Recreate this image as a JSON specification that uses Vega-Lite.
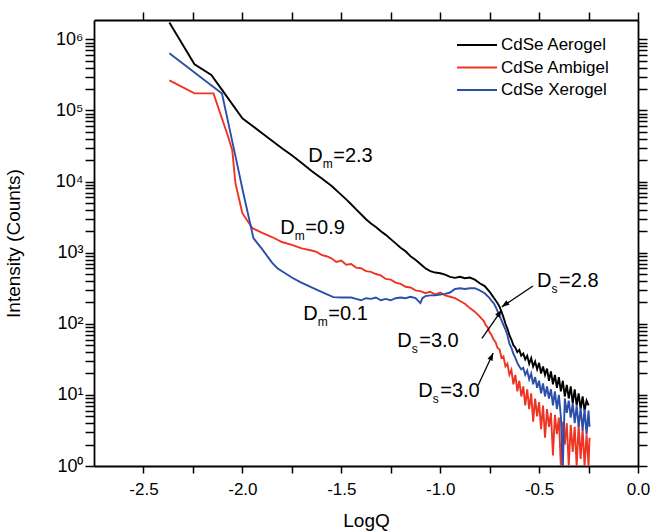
{
  "$schema": "https://vega.github.io/schema/vega-lite/v6.json",
  "width": 544,
  "height": 446,
  "autosize": {"type": "none"},
  "padding": {"left": 94, "top": 20, "right": 13, "bottom": 65},
  "background": "white",
  "config": {
    "view": {"stroke": null},
    "font": "Liberation Sans",
    "axis": {"domainColor": "black", "domainWidth": 1.8, "tickColor": "black", "tickWidth": 1.5, "labelColor": "black", "labelFont": "Liberation Sans", "titleFont": "Liberation Sans", "titleFontWeight": "normal", "titleColor": "black", "grid": false, "labelOverlap": false, "labelFlush": false, "labelBound": false}
  },
  "datasets": {
    "curves": [
      {"s": "CdSe Aerogel", "q": -2.369, "i": 1730000},
      {"s": "CdSe Aerogel", "q": -2.242, "i": 445000},
      {"s": "CdSe Aerogel", "q": -2.157, "i": 315000},
      {"s": "CdSe Aerogel", "q": -2.1, "i": 190000},
      {"s": "CdSe Aerogel", "q": -2.0, "i": 77600},
      {"s": "CdSe Aerogel", "q": -1.95, "i": 61000},
      {"s": "CdSe Aerogel", "q": -1.9, "i": 47900},
      {"s": "CdSe Aerogel", "q": -1.85, "i": 37600},
      {"s": "CdSe Aerogel", "q": -1.8, "i": 29500},
      {"s": "CdSe Aerogel", "q": -1.75, "i": 23400},
      {"s": "CdSe Aerogel", "q": -1.7, "i": 18200},
      {"s": "CdSe Aerogel", "q": -1.65, "i": 14100},
      {"s": "CdSe Aerogel", "q": -1.6, "i": 11100},
      {"s": "CdSe Aerogel", "q": -1.55, "i": 8710},
      {"s": "CdSe Aerogel", "q": -1.5, "i": 6490},
      {"s": "CdSe Aerogel", "q": -1.475, "i": 5620},
      {"s": "CdSe Aerogel", "q": -1.45, "i": 4790},
      {"s": "CdSe Aerogel", "q": -1.425, "i": 4070},
      {"s": "CdSe Aerogel", "q": -1.4, "i": 3470},
      {"s": "CdSe Aerogel", "q": -1.375, "i": 2950},
      {"s": "CdSe Aerogel", "q": -1.35, "i": 2570},
      {"s": "CdSe Aerogel", "q": -1.325, "i": 2290},
      {"s": "CdSe Aerogel", "q": -1.3, "i": 2000},
      {"s": "CdSe Aerogel", "q": -1.275, "i": 1780},
      {"s": "CdSe Aerogel", "q": -1.25, "i": 1550},
      {"s": "CdSe Aerogel", "q": -1.225, "i": 1350},
      {"s": "CdSe Aerogel", "q": -1.2, "i": 1175},
      {"s": "CdSe Aerogel", "q": -1.175, "i": 1047},
      {"s": "CdSe Aerogel", "q": -1.15, "i": 891},
      {"s": "CdSe Aerogel", "q": -1.125, "i": 794},
      {"s": "CdSe Aerogel", "q": -1.1, "i": 692},
      {"s": "CdSe Aerogel", "q": -1.075, "i": 603},
      {"s": "CdSe Aerogel", "q": -1.05, "i": 550},
      {"s": "CdSe Aerogel", "q": -1.025, "i": 525},
      {"s": "CdSe Aerogel", "q": -1.0, "i": 513},
      {"s": "CdSe Aerogel", "q": -0.975, "i": 490},
      {"s": "CdSe Aerogel", "q": -0.95, "i": 457},
      {"s": "CdSe Aerogel", "q": -0.925, "i": 442},
      {"s": "CdSe Aerogel", "q": -0.9, "i": 457},
      {"s": "CdSe Aerogel", "q": -0.875, "i": 437},
      {"s": "CdSe Aerogel", "q": -0.85, "i": 447},
      {"s": "CdSe Aerogel", "q": -0.825, "i": 417},
      {"s": "CdSe Aerogel", "q": -0.8, "i": 372},
      {"s": "CdSe Aerogel", "q": -0.775, "i": 339},
      {"s": "CdSe Aerogel", "q": -0.75, "i": 282},
      {"s": "CdSe Aerogel", "q": -0.74, "i": 257},
      {"s": "CdSe Aerogel", "q": -0.73, "i": 234},
      {"s": "CdSe Aerogel", "q": -0.72, "i": 214},
      {"s": "CdSe Aerogel", "q": -0.71, "i": 195},
      {"s": "CdSe Aerogel", "q": -0.7, "i": 174},
      {"s": "CdSe Aerogel", "q": -0.69, "i": 148},
      {"s": "CdSe Aerogel", "q": -0.68, "i": 123},
      {"s": "CdSe Aerogel", "q": -0.67, "i": 100},
      {"s": "CdSe Aerogel", "q": -0.66, "i": 85},
      {"s": "CdSe Aerogel", "q": -0.65, "i": 69},
      {"s": "CdSe Aerogel", "q": -0.64, "i": 60},
      {"s": "CdSe Aerogel", "q": -0.63, "i": 50},
      {"s": "CdSe Aerogel", "q": -0.62, "i": 46},
      {"s": "CdSe Aerogel", "q": -0.61, "i": 40},
      {"s": "CdSe Aerogel", "q": -0.6, "i": 43},
      {"s": "CdSe Aerogel", "q": -0.59, "i": 35.5},
      {"s": "CdSe Aerogel", "q": -0.58, "i": 38},
      {"s": "CdSe Aerogel", "q": -0.57, "i": 31.6},
      {"s": "CdSe Aerogel", "q": -0.56, "i": 35.5},
      {"s": "CdSe Aerogel", "q": -0.55, "i": 27.5},
      {"s": "CdSe Aerogel", "q": -0.54, "i": 33},
      {"s": "CdSe Aerogel", "q": -0.53, "i": 25.1},
      {"s": "CdSe Aerogel", "q": -0.52, "i": 29.5},
      {"s": "CdSe Aerogel", "q": -0.51, "i": 22.9},
      {"s": "CdSe Aerogel", "q": -0.5, "i": 28.2},
      {"s": "CdSe Aerogel", "q": -0.49, "i": 20},
      {"s": "CdSe Aerogel", "q": -0.48, "i": 25.1},
      {"s": "CdSe Aerogel", "q": -0.47, "i": 19.1},
      {"s": "CdSe Aerogel", "q": -0.46, "i": 23.4},
      {"s": "CdSe Aerogel", "q": -0.45, "i": 15.8},
      {"s": "CdSe Aerogel", "q": -0.44, "i": 21.4},
      {"s": "CdSe Aerogel", "q": -0.43, "i": 14.1},
      {"s": "CdSe Aerogel", "q": -0.42, "i": 19.1},
      {"s": "CdSe Aerogel", "q": -0.41, "i": 12.6},
      {"s": "CdSe Aerogel", "q": -0.4, "i": 17.8},
      {"s": "CdSe Aerogel", "q": -0.39, "i": 11.2},
      {"s": "CdSe Aerogel", "q": -0.38, "i": 15.8},
      {"s": "CdSe Aerogel", "q": -0.37, "i": 9.5},
      {"s": "CdSe Aerogel", "q": -0.36, "i": 13.8},
      {"s": "CdSe Aerogel", "q": -0.35, "i": 8.9},
      {"s": "CdSe Aerogel", "q": -0.34, "i": 13.2},
      {"s": "CdSe Aerogel", "q": -0.33, "i": 7.6},
      {"s": "CdSe Aerogel", "q": -0.32, "i": 12},
      {"s": "CdSe Aerogel", "q": -0.31, "i": 7.1},
      {"s": "CdSe Aerogel", "q": -0.3, "i": 10.5},
      {"s": "CdSe Aerogel", "q": -0.29, "i": 6.3},
      {"s": "CdSe Aerogel", "q": -0.28, "i": 9.5},
      {"s": "CdSe Aerogel", "q": -0.27, "i": 6.0},
      {"s": "CdSe Aerogel", "q": -0.26, "i": 8.3},
      {"s": "CdSe Aerogel", "q": -0.25, "i": 7.1},

      {"s": "CdSe Ambigel", "q": -2.369, "i": 265000},
      {"s": "CdSe Ambigel", "q": -2.242, "i": 174000},
      {"s": "CdSe Ambigel", "q": -2.146, "i": 174000},
      {"s": "CdSe Ambigel", "q": -2.071, "i": 42000},
      {"s": "CdSe Ambigel", "q": -2.051, "i": 27500},
      {"s": "CdSe Ambigel", "q": -2.035, "i": 9460},
      {"s": "CdSe Ambigel", "q": -2.0, "i": 3590},
      {"s": "CdSe Ambigel", "q": -1.949, "i": 2210},
      {"s": "CdSe Ambigel", "q": -1.9, "i": 1905},
      {"s": "CdSe Ambigel", "q": -1.85, "i": 1660},
      {"s": "CdSe Ambigel", "q": -1.8, "i": 1413},
      {"s": "CdSe Ambigel", "q": -1.75, "i": 1288},
      {"s": "CdSe Ambigel", "q": -1.7, "i": 1148},
      {"s": "CdSe Ambigel", "q": -1.65, "i": 1072},
      {"s": "CdSe Ambigel", "q": -1.625, "i": 1023},
      {"s": "CdSe Ambigel", "q": -1.6, "i": 933},
      {"s": "CdSe Ambigel", "q": -1.575, "i": 891},
      {"s": "CdSe Ambigel", "q": -1.55, "i": 832},
      {"s": "CdSe Ambigel", "q": -1.525, "i": 741},
      {"s": "CdSe Ambigel", "q": -1.5, "i": 776},
      {"s": "CdSe Ambigel", "q": -1.475, "i": 676},
      {"s": "CdSe Ambigel", "q": -1.45, "i": 692},
      {"s": "CdSe Ambigel", "q": -1.425, "i": 617},
      {"s": "CdSe Ambigel", "q": -1.4, "i": 603},
      {"s": "CdSe Ambigel", "q": -1.375, "i": 550},
      {"s": "CdSe Ambigel", "q": -1.35, "i": 537},
      {"s": "CdSe Ambigel", "q": -1.325, "i": 501},
      {"s": "CdSe Ambigel", "q": -1.3, "i": 479},
      {"s": "CdSe Ambigel", "q": -1.275, "i": 427},
      {"s": "CdSe Ambigel", "q": -1.25, "i": 417},
      {"s": "CdSe Ambigel", "q": -1.225, "i": 380},
      {"s": "CdSe Ambigel", "q": -1.2, "i": 363},
      {"s": "CdSe Ambigel", "q": -1.175, "i": 331},
      {"s": "CdSe Ambigel", "q": -1.15, "i": 324},
      {"s": "CdSe Ambigel", "q": -1.125, "i": 295},
      {"s": "CdSe Ambigel", "q": -1.1, "i": 288},
      {"s": "CdSe Ambigel", "q": -1.075, "i": 269},
      {"s": "CdSe Ambigel", "q": -1.05, "i": 282},
      {"s": "CdSe Ambigel", "q": -1.025, "i": 257},
      {"s": "CdSe Ambigel", "q": -1.0, "i": 275},
      {"s": "CdSe Ambigel", "q": -0.975, "i": 251},
      {"s": "CdSe Ambigel", "q": -0.95, "i": 240},
      {"s": "CdSe Ambigel", "q": -0.925, "i": 229},
      {"s": "CdSe Ambigel", "q": -0.9, "i": 209},
      {"s": "CdSe Ambigel", "q": -0.875, "i": 191},
      {"s": "CdSe Ambigel", "q": -0.85, "i": 166},
      {"s": "CdSe Ambigel", "q": -0.825, "i": 148},
      {"s": "CdSe Ambigel", "q": -0.8, "i": 126},
      {"s": "CdSe Ambigel", "q": -0.79, "i": 117},
      {"s": "CdSe Ambigel", "q": -0.78, "i": 110},
      {"s": "CdSe Ambigel", "q": -0.77, "i": 95.5},
      {"s": "CdSe Ambigel", "q": -0.76, "i": 89},
      {"s": "CdSe Ambigel", "q": -0.75, "i": 76},
      {"s": "CdSe Ambigel", "q": -0.74, "i": 69},
      {"s": "CdSe Ambigel", "q": -0.73, "i": 60},
      {"s": "CdSe Ambigel", "q": -0.72, "i": 55},
      {"s": "CdSe Ambigel", "q": -0.71, "i": 45.7},
      {"s": "CdSe Ambigel", "q": -0.7, "i": 43.7},
      {"s": "CdSe Ambigel", "q": -0.69, "i": 33.1},
      {"s": "CdSe Ambigel", "q": -0.68, "i": 34.7},
      {"s": "CdSe Ambigel", "q": -0.67, "i": 25.1},
      {"s": "CdSe Ambigel", "q": -0.66, "i": 27.5},
      {"s": "CdSe Ambigel", "q": -0.65, "i": 19.1},
      {"s": "CdSe Ambigel", "q": -0.64, "i": 22.4},
      {"s": "CdSe Ambigel", "q": -0.63, "i": 14.1},
      {"s": "CdSe Ambigel", "q": -0.62, "i": 19.1},
      {"s": "CdSe Ambigel", "q": -0.61, "i": 11.2},
      {"s": "CdSe Ambigel", "q": -0.6, "i": 15.8},
      {"s": "CdSe Ambigel", "q": -0.59, "i": 9.5},
      {"s": "CdSe Ambigel", "q": -0.58, "i": 13.2},
      {"s": "CdSe Ambigel", "q": -0.57, "i": 7.1},
      {"s": "CdSe Ambigel", "q": -0.56, "i": 12},
      {"s": "CdSe Ambigel", "q": -0.55, "i": 6.3},
      {"s": "CdSe Ambigel", "q": -0.54, "i": 10.5},
      {"s": "CdSe Ambigel", "q": -0.53, "i": 4.2},
      {"s": "CdSe Ambigel", "q": -0.52, "i": 8.9},
      {"s": "CdSe Ambigel", "q": -0.51, "i": 5.0},
      {"s": "CdSe Ambigel", "q": -0.5, "i": 7.9},
      {"s": "CdSe Ambigel", "q": -0.49, "i": 3.3},
      {"s": "CdSe Ambigel", "q": -0.48, "i": 7.1},
      {"s": "CdSe Ambigel", "q": -0.47, "i": 2.5},
      {"s": "CdSe Ambigel", "q": -0.46, "i": 6.3},
      {"s": "CdSe Ambigel", "q": -0.45, "i": 3.55},
      {"s": "CdSe Ambigel", "q": -0.44, "i": 5.6},
      {"s": "CdSe Ambigel", "q": -0.43, "i": 1.41},
      {"s": "CdSe Ambigel", "q": -0.42, "i": 5.25},
      {"s": "CdSe Ambigel", "q": -0.41, "i": 2.8},
      {"s": "CdSe Ambigel", "q": -0.4, "i": 4.8},
      {"s": "CdSe Ambigel", "q": -0.39, "i": 1},
      {"s": "CdSe Ambigel", "q": -0.38, "i": 4.2},
      {"s": "CdSe Ambigel", "q": -0.37, "i": 2.0},
      {"s": "CdSe Ambigel", "q": -0.36, "i": 4.0},
      {"s": "CdSe Ambigel", "q": -0.35, "i": 1},
      {"s": "CdSe Ambigel", "q": -0.34, "i": 3.8},
      {"s": "CdSe Ambigel", "q": -0.33, "i": 1.58},
      {"s": "CdSe Ambigel", "q": -0.32, "i": 3.55},
      {"s": "CdSe Ambigel", "q": -0.31, "i": 1},
      {"s": "CdSe Ambigel", "q": -0.3, "i": 3.8},
      {"s": "CdSe Ambigel", "q": -0.29, "i": 1.26},
      {"s": "CdSe Ambigel", "q": -0.28, "i": 3.3},
      {"s": "CdSe Ambigel", "q": -0.27, "i": 1},
      {"s": "CdSe Ambigel", "q": -0.26, "i": 2.8},
      {"s": "CdSe Ambigel", "q": -0.25, "i": 1},
      {"s": "CdSe Ambigel", "q": -0.245, "i": 2.5},

      {"s": "CdSe Xerogel", "q": -2.369, "i": 635000},
      {"s": "CdSe Xerogel", "q": -2.103, "i": 173000},
      {"s": "CdSe Xerogel", "q": -2.025, "i": 16900},
      {"s": "CdSe Xerogel", "q": -1.995, "i": 6850},
      {"s": "CdSe Xerogel", "q": -1.944, "i": 1600},
      {"s": "CdSe Xerogel", "q": -1.9, "i": 1120},
      {"s": "CdSe Xerogel", "q": -1.85, "i": 724},
      {"s": "CdSe Xerogel", "q": -1.823, "i": 605},
      {"s": "CdSe Xerogel", "q": -1.75, "i": 447},
      {"s": "CdSe Xerogel", "q": -1.707, "i": 385},
      {"s": "CdSe Xerogel", "q": -1.65, "i": 324},
      {"s": "CdSe Xerogel", "q": -1.6, "i": 282},
      {"s": "CdSe Xerogel", "q": -1.54, "i": 237},
      {"s": "CdSe Xerogel", "q": -1.5, "i": 234},
      {"s": "CdSe Xerogel", "q": -1.45, "i": 234},
      {"s": "CdSe Xerogel", "q": -1.425, "i": 224},
      {"s": "CdSe Xerogel", "q": -1.4, "i": 214},
      {"s": "CdSe Xerogel", "q": -1.375, "i": 229},
      {"s": "CdSe Xerogel", "q": -1.35, "i": 224},
      {"s": "CdSe Xerogel", "q": -1.325, "i": 234},
      {"s": "CdSe Xerogel", "q": -1.3, "i": 214},
      {"s": "CdSe Xerogel", "q": -1.275, "i": 224},
      {"s": "CdSe Xerogel", "q": -1.25, "i": 214},
      {"s": "CdSe Xerogel", "q": -1.225, "i": 229},
      {"s": "CdSe Xerogel", "q": -1.2, "i": 234},
      {"s": "CdSe Xerogel", "q": -1.175, "i": 229},
      {"s": "CdSe Xerogel", "q": -1.15, "i": 240},
      {"s": "CdSe Xerogel", "q": -1.125, "i": 229},
      {"s": "CdSe Xerogel", "q": -1.1, "i": 195},
      {"s": "CdSe Xerogel", "q": -1.09, "i": 229},
      {"s": "CdSe Xerogel", "q": -1.075, "i": 245},
      {"s": "CdSe Xerogel", "q": -1.05, "i": 251},
      {"s": "CdSe Xerogel", "q": -1.025, "i": 251},
      {"s": "CdSe Xerogel", "q": -1.0, "i": 257},
      {"s": "CdSe Xerogel", "q": -0.975, "i": 263},
      {"s": "CdSe Xerogel", "q": -0.95, "i": 275},
      {"s": "CdSe Xerogel", "q": -0.925, "i": 309},
      {"s": "CdSe Xerogel", "q": -0.9, "i": 316},
      {"s": "CdSe Xerogel", "q": -0.875, "i": 309},
      {"s": "CdSe Xerogel", "q": -0.85, "i": 316},
      {"s": "CdSe Xerogel", "q": -0.825, "i": 316},
      {"s": "CdSe Xerogel", "q": -0.8, "i": 295},
      {"s": "CdSe Xerogel", "q": -0.775, "i": 269},
      {"s": "CdSe Xerogel", "q": -0.75, "i": 229},
      {"s": "CdSe Xerogel", "q": -0.74, "i": 209},
      {"s": "CdSe Xerogel", "q": -0.73, "i": 195},
      {"s": "CdSe Xerogel", "q": -0.72, "i": 174},
      {"s": "CdSe Xerogel", "q": -0.71, "i": 151},
      {"s": "CdSe Xerogel", "q": -0.7, "i": 129},
      {"s": "CdSe Xerogel", "q": -0.69, "i": 112},
      {"s": "CdSe Xerogel", "q": -0.68, "i": 95.5},
      {"s": "CdSe Xerogel", "q": -0.67, "i": 83},
      {"s": "CdSe Xerogel", "q": -0.66, "i": 69},
      {"s": "CdSe Xerogel", "q": -0.65, "i": 52.5},
      {"s": "CdSe Xerogel", "q": -0.64, "i": 45.7},
      {"s": "CdSe Xerogel", "q": -0.63, "i": 38},
      {"s": "CdSe Xerogel", "q": -0.62, "i": 33.1},
      {"s": "CdSe Xerogel", "q": -0.61, "i": 28.2},
      {"s": "CdSe Xerogel", "q": -0.6, "i": 25.1},
      {"s": "CdSe Xerogel", "q": -0.59, "i": 22.9},
      {"s": "CdSe Xerogel", "q": -0.58, "i": 24},
      {"s": "CdSe Xerogel", "q": -0.57, "i": 19.1},
      {"s": "CdSe Xerogel", "q": -0.56, "i": 21.9},
      {"s": "CdSe Xerogel", "q": -0.55, "i": 16.6},
      {"s": "CdSe Xerogel", "q": -0.54, "i": 20},
      {"s": "CdSe Xerogel", "q": -0.53, "i": 14.1},
      {"s": "CdSe Xerogel", "q": -0.52, "i": 17.8},
      {"s": "CdSe Xerogel", "q": -0.51, "i": 12.6},
      {"s": "CdSe Xerogel", "q": -0.5, "i": 15.8},
      {"s": "CdSe Xerogel", "q": -0.49, "i": 10.5},
      {"s": "CdSe Xerogel", "q": -0.48, "i": 14.5},
      {"s": "CdSe Xerogel", "q": -0.47, "i": 9.5},
      {"s": "CdSe Xerogel", "q": -0.46, "i": 13.2},
      {"s": "CdSe Xerogel", "q": -0.45, "i": 8.9},
      {"s": "CdSe Xerogel", "q": -0.44, "i": 12},
      {"s": "CdSe Xerogel", "q": -0.43, "i": 7.1},
      {"s": "CdSe Xerogel", "q": -0.42, "i": 11.2},
      {"s": "CdSe Xerogel", "q": -0.41, "i": 6.3},
      {"s": "CdSe Xerogel", "q": -0.4, "i": 10},
      {"s": "CdSe Xerogel", "q": -0.39, "i": 5.0},
      {"s": "CdSe Xerogel", "q": -0.38, "i": 1},
      {"s": "CdSe Xerogel", "q": -0.37, "i": 8.9},
      {"s": "CdSe Xerogel", "q": -0.36, "i": 5.6},
      {"s": "CdSe Xerogel", "q": -0.35, "i": 8.3},
      {"s": "CdSe Xerogel", "q": -0.34, "i": 4.8},
      {"s": "CdSe Xerogel", "q": -0.33, "i": 7.6},
      {"s": "CdSe Xerogel", "q": -0.32, "i": 4.0},
      {"s": "CdSe Xerogel", "q": -0.31, "i": 7.1},
      {"s": "CdSe Xerogel", "q": -0.3, "i": 3.55},
      {"s": "CdSe Xerogel", "q": -0.29, "i": 6.6},
      {"s": "CdSe Xerogel", "q": -0.28, "i": 3.16},
      {"s": "CdSe Xerogel", "q": -0.27, "i": 6.3},
      {"s": "CdSe Xerogel", "q": -0.26, "i": 2.8},
      {"s": "CdSe Xerogel", "q": -0.25, "i": 6.0},
      {"s": "CdSe Xerogel", "q": -0.245, "i": 3.55}
    ],
    "notes": [
      {"q": -1.667, "i": 18700, "d": "D", "sub": "m", "val": "=2.3"},
      {"q": -1.808, "i": 1820, "d": "D", "sub": "m", "val": "=0.9"},
      {"q": -1.692, "i": 112, "d": "D", "sub": "m", "val": "=0.1"},
      {"q": -0.51, "i": 327, "d": "D", "sub": "s", "val": "=2.8"},
      {"q": -1.217, "i": 47, "d": "D", "sub": "s", "val": "=3.0"},
      {"q": -1.111, "i": 9.3, "d": "D", "sub": "s", "val": "=3.0"}
    ],
    "arrows": [
      {"q1": -0.531, "i1": 340, "q2": -0.688, "i2": 173, "angle": 234},
      {"q1": -0.789, "i1": 62.3, "q2": -0.689, "i2": 156, "angle": 35},
      {"q1": -0.808, "i1": 13.7, "q2": -0.732, "i2": 38.7, "angle": 25}
    ]
  },
  "resolve": {"scale": {"x": "independent", "y": "independent"}, "axis": {"x": "independent", "y": "independent"}},
  "layer": [
    {
      "data": {"name": "curves"},
      "mark": {"type": "line", "strokeWidth": 1.9, "clip": true},
      "encoding": {
        "x": {"field": "q", "type": "quantitative", "scale": {"domain": [-2.75, 0], "nice": false, "zero": false},
          "axis": {"orient": "bottom", "values": [-2.5, -2.25, -2, -1.75, -1.5, -1.25, -1, -0.75, -0.5, -0.25, 0],
            "labelExpr": "abs(datum.value*2 - round(datum.value*2)) < 0.001 ? (datum.value < -0.001 ? '-' : '') + format(abs(datum.value), '.1f') : ''",
            "tickSize": 7,
            "encode": {"ticks": {"update": {"y2": {"signal": "abs(datum.value*2 - round(datum.value*2)) < 0.001 ? 7 : 4"}}}},
            "labelFontSize": 17, "labelPadding": 8, "title": "LogQ", "titleFontSize": 19, "titleY": 45, "titleBaseline": "top"}},
        "y": {"field": "i", "type": "quantitative", "scale": {"type": "log", "domain": [1, 1870000], "nice": false},
          "axis": {"orient": "left", "values": [1,2,3,4,5,6,7,8,9,10,20,30,40,50,60,70,80,90,100,200,300,400,500,600,700,800,900,1000,2000,3000,4000,5000,6000,7000,8000,9000,10000,20000,30000,40000,50000,60000,70000,80000,90000,100000,200000,300000,400000,500000,600000,700000,800000,900000,1000000],
            "labelExpr": "indexof([1,10,100,1000,10000,100000,1000000], datum.value) < 0 ? '' : '10' + ['⁰','¹','²','³','⁴','⁵','⁶'][indexof([1,10,100,1000,10000,100000,1000000], datum.value)]",
            "tickSize": 9,
            "encode": {"ticks": {"update": {"x2": {"signal": "indexof([1,10,100,1000,10000,100000,1000000], datum.value) >= 0 ? -9 : -5"}}}},
            "labelFontSize": 18, "labelPadding": 2, "title": "Intensity (Counts)", "titleFontSize": 19, "titleX": -71, "titleY": 223, "titleAngle": -90, "titleBaseline": "bottom", "titleAlign": "center"}},
        "color": {"field": "s", "type": "nominal",
          "scale": {"domain": ["CdSe Aerogel", "CdSe Ambigel", "CdSe Xerogel"], "range": ["#000000", "#ee3524", "#2c4ea8"]},
          "legend": {"orient": "none", "legendX": 362, "legendY": 16.5, "title": null, "symbolType": "stroke", "symbolSize": 1600, "symbolStrokeWidth": 2, "clipHeight": 17, "labelFontSize": 17, "labelColor": "black", "labelFont": "Liberation Sans", "rowPadding": 4.5, "labelOffset": 3, "padding": 0}}
      }
    },
    {
      "data": {"name": "notes"},
      "mark": {"type": "text", "align": "left", "baseline": "alphabetic", "fontSize": 20, "font": "Liberation Sans", "color": "black"},
      "encoding": {
        "x": {"field": "q", "type": "quantitative", "scale": {"domain": [-2.75, 0], "nice": false, "zero": false},
          "axis": {"orient": "top", "values": [-2.5, -2.25, -2, -1.75, -1.5, -1.25, -1, -0.75, -0.5, -0.25, 0], "labels": false, "title": null, "tickSize": 8,
            "encode": {"ticks": {"update": {"y2": {"signal": "abs(datum.value*2 - round(datum.value*2)) < 0.001 ? -8 : -4"}}}}}},
        "y": {"field": "i", "type": "quantitative", "scale": {"type": "log", "domain": [1, 1870000], "nice": false},
          "axis": {"orient": "right", "values": [1,2,3,4,5,6,7,8,9,10,20,30,40,50,60,70,80,90,100,200,300,400,500,600,700,800,900,1000,2000,3000,4000,5000,6000,7000,8000,9000,10000,20000,30000,40000,50000,60000,70000,80000,90000,100000,200000,300000,400000,500000,600000,700000,800000,900000,1000000], "labels": false, "title": null, "tickSize": 9,
            "encode": {"ticks": {"update": {"x2": {"signal": "indexof([1,10,100,1000,10000,100000,1000000], datum.value) >= 0 ? 9 : 5"}}}}}},
        "text": {"field": "d"}
      }
    },
    {
      "data": {"name": "notes"},
      "mark": {"type": "text", "align": "left", "baseline": "alphabetic", "fontSize": 12, "font": "Liberation Sans", "color": "black", "dx": 14.5, "dy": 6},
      "encoding": {
        "x": {"field": "q", "type": "quantitative", "scale": {"domain": [-2.75, 0], "nice": false, "zero": false}, "axis": null},
        "y": {"field": "i", "type": "quantitative", "scale": {"type": "log", "domain": [1, 1870000], "nice": false}, "axis": null},
        "text": {"field": "sub"}
      }
    },
    {
      "data": {"name": "notes"},
      "transform": [{"filter": "datum.sub == 'm'"}],
      "mark": {"type": "text", "align": "left", "baseline": "alphabetic", "fontSize": 20, "font": "Liberation Sans", "color": "black", "dx": 25},
      "encoding": {
        "x": {"field": "q", "type": "quantitative", "scale": {"domain": [-2.75, 0], "nice": false, "zero": false}, "axis": null},
        "y": {"field": "i", "type": "quantitative", "scale": {"type": "log", "domain": [1, 1870000], "nice": false}, "axis": null},
        "text": {"field": "val"}
      }
    },
    {
      "data": {"name": "notes"},
      "transform": [{"filter": "datum.sub == 's'"}],
      "mark": {"type": "text", "align": "left", "baseline": "alphabetic", "fontSize": 20, "font": "Liberation Sans", "color": "black", "dx": 22},
      "encoding": {
        "x": {"field": "q", "type": "quantitative", "scale": {"domain": [-2.75, 0], "nice": false, "zero": false}, "axis": null},
        "y": {"field": "i", "type": "quantitative", "scale": {"type": "log", "domain": [1, 1870000], "nice": false}, "axis": null},
        "text": {"field": "val"}
      }
    },
    {
      "data": {"name": "arrows"},
      "mark": {"type": "rule", "color": "black", "strokeWidth": 1.3},
      "encoding": {
        "x": {"field": "q1", "type": "quantitative", "scale": {"domain": [-2.75, 0], "nice": false, "zero": false}, "axis": null},
        "y": {"field": "i1", "type": "quantitative", "scale": {"type": "log", "domain": [1, 1870000], "nice": false}, "axis": null},
        "x2": {"field": "q2"},
        "y2": {"field": "i2"}
      }
    },
    {
      "data": {"name": "arrows"},
      "mark": {"type": "point", "shape": "M0,0L-0.38,1L0.38,1Z", "filled": true, "color": "black", "opacity": 1, "size": 220},
      "encoding": {
        "x": {"field": "q2", "type": "quantitative", "scale": {"domain": [-2.75, 0], "nice": false, "zero": false}, "axis": null},
        "y": {"field": "i2", "type": "quantitative", "scale": {"type": "log", "domain": [1, 1870000], "nice": false}, "axis": null},
        "angle": {"field": "angle", "type": "quantitative", "scale": null}
      }
    }
  ]
}
